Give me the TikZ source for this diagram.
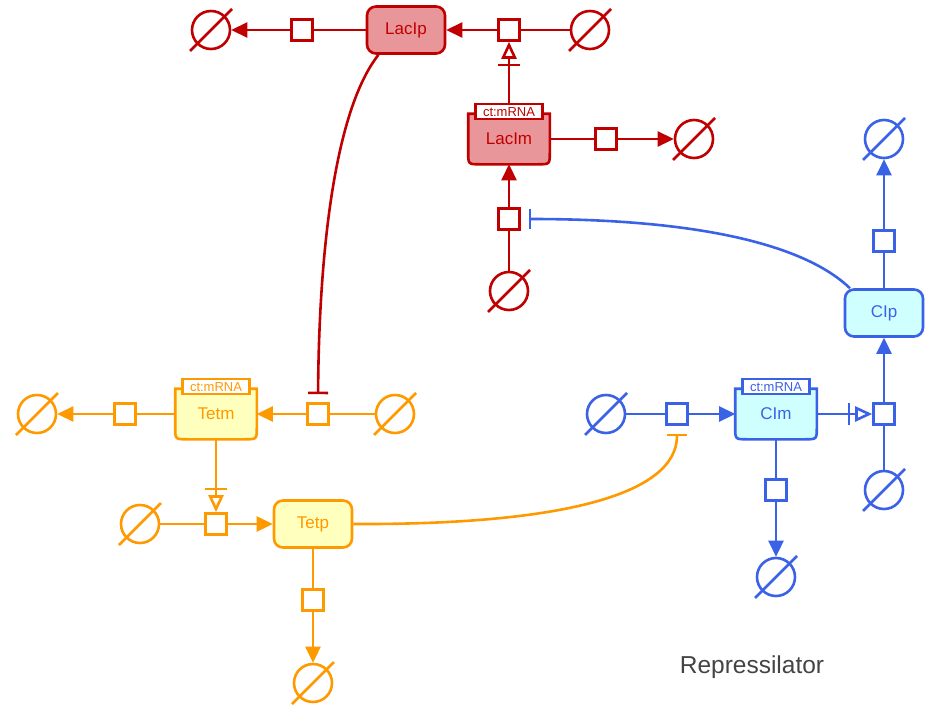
\documentclass[tikz,border=0pt]{standalone}
\usepackage{fontspec}
\setmainfont{Liberation Sans}
\usetikzlibrary{arrows.meta,calc}
\definecolor{rd}{RGB}{192,0,0}
\definecolor{rdfill}{RGB}{232,150,154}
\definecolor{og}{RGB}{255,153,0}
\definecolor{ogfill}{RGB}{255,255,190}
\definecolor{bl}{RGB}{58,98,230}
\definecolor{blfill}{RGB}{208,255,255}
\definecolor{txtgray}{RGB}{68,68,68}
\newcommand\mysink[3]{%
  \node[sink, draw=#3] (#1) at (#2) {};
  \draw[#3] ($(#1.center)+(-21,21)$) -- ($(#1.center)+(21,-21)$);}
\newcommand\mysq[3]{\node[proc, draw=#3] (#1) at (#2) {};}
\newcommand\nafeat[5]{% name, pos, label, line colour, fill colour
  \node[nabody, text=#4] (#1) at (#2) {};
  \draw[draw=#4, fill=#5] (#1.north west) -- ($(#1.south west)+(0,-12)$)
    .. controls (#1.south west) .. ($(#1.south west)+(12,0)$)
    -- ($(#1.south east)+(-12,0)$)
    .. controls (#1.south east) .. ($(#1.south east)+(0,-12)$)
    -- (#1.north east) -- cycle;
  \node[nabody, text=#4] at (#1.center) {#3};
  \node[tag, draw=#4, text=#4] (#1tag) at ($(#1.north)+(0,-2)$) {ct:mRNA};}
\begin{document}
\begin{tikzpicture}[x=1pt,y=-1pt, line width=2.6pt,
  proc/.style={draw, fill=white, rectangle, minimum size=21pt, inner sep=0pt},
  sink/.style={draw, circle, minimum size=38pt, inner sep=0pt},
  macro/.style={draw, rounded corners=9pt, minimum width=78pt, minimum height=47pt, inner sep=0pt, font=\fontsize{17}{17}\selectfont},
  nabody/.style={minimum width=79pt, minimum height=48pt, inner sep=0pt, font=\fontsize{17}{17}\selectfont},
  tag/.style={draw, fill=white, line width=2.2pt, minimum width=67pt, minimum height=15pt, inner sep=0pt, font=\fontsize{13}{13}\selectfont},
  prod/.style={-{Triangle[length=16pt,width=15pt]}},
  nec/.style={-{Bar[width=22pt,sep=5pt] Triangle[open,length=17pt,width=15pt]}},
  inh/.style={-{Bar[width=20pt]}, shorten >=8pt},
]
\useasboundingbox (0,0) rectangle (932,709);
% ---------------- red ----------------
\node[macro, draw=rd, fill=rdfill, text=rd] (lacip) at (406,30) {LacIp};
\mysq{sqRa}{302,30}{rd}
\mysink{esRa}{211,30}{rd}
\mysq{sqRb}{509,30}{rd}
\mysink{esRb}{590,30}{rd}
\nafeat{lacim}{509,139}{LacIm}{rd}{rdfill}
\mysq{sqRc}{606,139}{rd}
\mysink{esRc}{694,139}{rd}
\mysq{sqRd}{509,219}{rd}
\mysink{esRd}{509,291}{rd}
\draw[rd] (lacip) -- (sqRa);
\draw[rd, prod] (sqRa) -- (esRa);
\draw[rd] (esRb) -- (sqRb);
\draw[rd, prod] (sqRb) -- (lacip);
\draw[rd, nec] (lacimtag.north) -- (sqRb.south);
\draw[rd] (lacim.east) -- (sqRc);
\draw[rd, prod] (sqRc) -- (esRc);
\draw[rd] (esRd) -- (sqRd);
\draw[rd, prod] (sqRd) -- (lacim.south);
% ---------------- orange ----------------
\nafeat{tetm}{216,414}{Tetm}{og}{ogfill}
\mysq{sqOa}{125,414}{og}
\mysink{esOa}{37,414}{og}
\mysq{sqOb}{318,414}{og}
\mysink{esOb}{395,414}{og}
\mysq{sqOc}{216,524}{og}
\mysink{esOc}{140,524}{og}
\node[macro, draw=og, fill=ogfill, text=og] (tetp) at (313,524) {Tetp};
\mysq{sqOd}{313,600}{og}
\mysink{esOd}{313,683}{og}
\draw[og] (tetm.west) -- (sqOa);
\draw[og, prod] (sqOa) -- (esOa);
\draw[og] (esOb) -- (sqOb);
\draw[og, prod] (sqOb) -- (tetm.east);
\draw[og, nec] (tetm.south) -- (sqOc.north);
\draw[og] (esOc) -- (sqOc);
\draw[og, prod] (sqOc) -- (tetp);
\draw[og] (tetp) -- (sqOd);
\draw[og, prod] (sqOd) -- (esOd);
% ---------------- blue ----------------
\nafeat{cim}{776,414}{CIm}{bl}{blfill}
\mysq{sqBa}{677,414}{bl}
\mysink{esBa}{606,414}{bl}
\mysq{sqBb}{884,414}{bl}
\mysink{esBb}{884,490}{bl}
\mysq{sqBc}{776,490}{bl}
\mysink{esBc}{776,577}{bl}
\node[macro, draw=bl, fill=blfill, text=bl] (cip) at (884,313) {CIp};
\mysq{sqBd}{884,241}{bl}
\mysink{esBd}{884,139}{bl}
\draw[bl] (esBa) -- (sqBa);
\draw[bl, prod] (sqBa) -- (cim.west);
\draw[bl, nec] (cim.east) -- (sqBb.west);
\draw[bl] (esBb) -- (sqBb);
\draw[bl, prod] (sqBb) -- (cip);
\draw[bl] (cim.south) -- (sqBc);
\draw[bl, prod] (sqBc) -- (esBc);
\draw[bl] (cip) -- (sqBd);
\draw[bl, prod] (sqBd) -- (esBd);
% ---------------- repression curves ----------------
\draw[rd, inh] (lacip.222) .. controls (335,110) and (319,250) .. (sqOb.north);
\draw[bl, inh] (cip.144) .. controls (805,245) and (700,219) .. (sqRd.east);
\draw[og, inh] (tetp.east) .. controls (560,525) and (677,495) .. (sqBa.south);
% ---------------- title ----------------
\node[text=txtgray, font=\fontsize{24.5}{25}\selectfont] (title) at (752,667) {Repressilator};
\end{tikzpicture}
\end{document}
